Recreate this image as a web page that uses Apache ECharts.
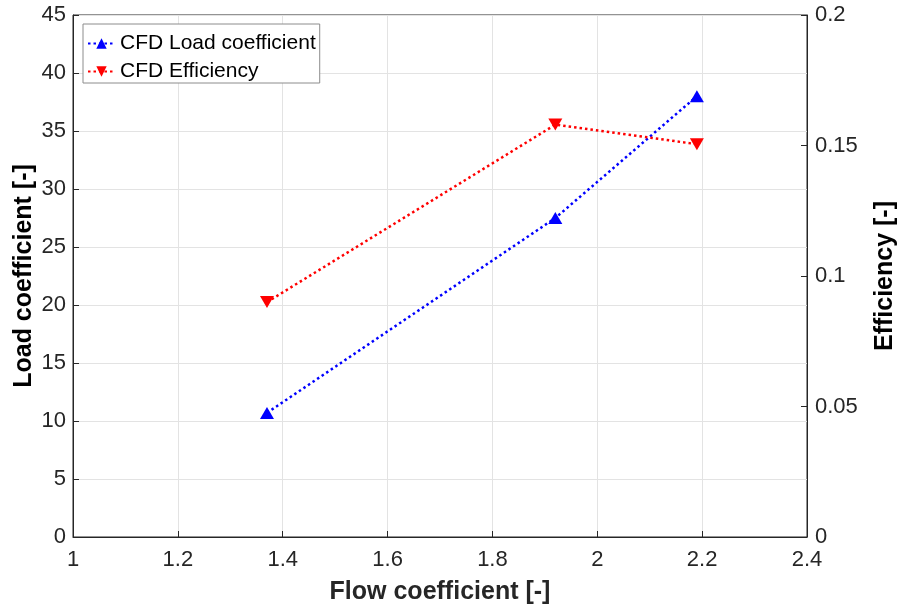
<!DOCTYPE html>
<html><head><meta charset="utf-8">
<script src="https://cdn.jsdelivr.net/npm/echarts@6/dist/echarts.min.js"></script>
<style>html,body{margin:0;padding:0;background:#fff}#c{width:901px;height:613px}</style>
</head><body><div id="c"></div>
<script>
const flowCoeff = [1.37, 1.92, 2.19];
const loadCoeff = [10.7, 27.5, 38.0];
const efficiency = [0.090, 0.158, 0.1505];
const xTicks = {min: 1, max: 2.4, interval: 0.2};
const leftTicks = {min: 0, max: 45, interval: 5};
const rightTicks = {min: 0, max: 0.2, interval: 0.05};

const chart = echarts.init(document.getElementById('c'));
const axisCol = '#262626';
const font = 'Liberation Sans, Arial, sans-serif';
chart.setOption({
  animation: false,
  grid: {left: 73, right: 94, top: 15, bottom: 76, show: true, borderColor: axisCol, borderWidth: 1,
    outerBoundsMode: 'none', containLabel: false},
  legend: {
    left: 83, top: 24, orient: 'vertical', itemGap: 7, itemWidth: 27, itemHeight: 13,
    padding: [9, 4, 1, 4], borderColor: '#8c8c8c', borderWidth: 1, backgroundColor: '#fff',
    textStyle: {fontFamily: font, fontSize: 21, color: '#000'},
    data: ['CFD Load coefficient', 'CFD Efficiency']
  },
  xAxis: {
    type: 'value', min: xTicks.min, max: xTicks.max, interval: xTicks.interval,
    name: 'Flow coefficient [-]', nameLocation: 'middle', nameGap: 43, nameMoveOverlap: false,
    nameTextStyle: {fontFamily: font, fontSize: 25, fontWeight: 'bold', color: '#262626'},
    axisLine: {lineStyle: {color: axisCol}},
    axisTick: {inside: true, length: 6, lineStyle: {color: axisCol}},
    axisLabel: {fontFamily: font, fontSize: 22, color: '#262626', margin: 12,
      formatter: v => String(Math.round(v * 10) / 10)},
    splitLine: {show: true, lineStyle: {color: '#e3e3e3'}}
  },
  yAxis: [{
    type: 'value', min: leftTicks.min, max: leftTicks.max, interval: leftTicks.interval,
    name: 'Load coefficient [-]', nameLocation: 'middle', nameGap: 36, nameMoveOverlap: false,
    nameTextStyle: {fontFamily: font, fontSize: 25, fontWeight: 'bold', color: '#000'},
    axisLine: {show: true, lineStyle: {color: axisCol}},
    axisTick: {show: true, inside: true, length: 6, lineStyle: {color: axisCol}},
    axisLabel: {fontFamily: font, fontSize: 22, color: '#262626', margin: 7},
    splitLine: {show: true, lineStyle: {color: '#e3e3e3'}}
  }, {
    type: 'value', min: rightTicks.min, max: rightTicks.max, interval: rightTicks.interval,
    name: 'Efficiency [-]', nameLocation: 'middle', nameGap: 66, nameRotate: 90, nameMoveOverlap: false,
    nameTextStyle: {fontFamily: font, fontSize: 25, fontWeight: 'bold', color: '#000'},
    axisLine: {show: true, lineStyle: {color: axisCol}},
    axisTick: {show: true, inside: true, length: 6, lineStyle: {color: axisCol}},
    axisLabel: {fontFamily: font, fontSize: 22, color: '#262626', margin: 8,
      formatter: v => String(Math.round(v * 100) / 100)},
    splitLine: {show: false}
  }],
  series: [{
    name: 'CFD Load coefficient', type: 'line', yAxisIndex: 0,
    data: flowCoeff.map((x, i) => [x, loadCoeff[i]]),
    symbol: 'triangle', symbolSize: [14, 12],
    lineStyle: {color: '#0000ff', width: 2.5, type: [2.5, 3]},
    itemStyle: {color: '#0000ff'}
  }, {
    name: 'CFD Efficiency', type: 'line', yAxisIndex: 1,
    data: flowCoeff.map((x, i) => [x, efficiency[i]]),
    symbol: 'triangle', symbolRotate: 180, symbolSize: [14, 12],
    lineStyle: {color: '#ff0000', width: 2.5, type: [2.5, 3]},
    itemStyle: {color: '#ff0000'}
  }]
});
</script></body></html>
